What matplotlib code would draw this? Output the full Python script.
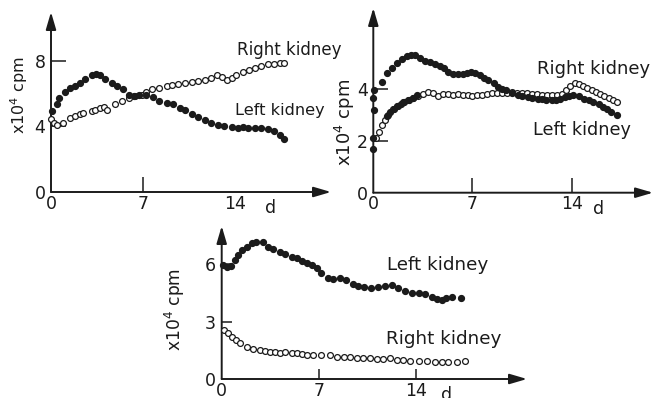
import matplotlib
matplotlib.use("Agg")
import matplotlib.pyplot as plt

W, H = 654, 398
INK = "#1b1b1b"

# ---- Panel A (top left): counts in units of 10^4 cpm vs. days ----
a_left_days = [0.05, 0.43, 0.6, 1.1, 1.45, 1.83, 2.2, 2.6, 3.1, 3.4, 3.74, 4.1,
               4.63, 5.0, 5.5, 5.9, 6.3, 6.67, 7.2, 7.8, 8.2, 8.8, 9.3, 9.8,
               10.2, 10.7, 11.2, 11.7, 12.2, 12.7, 13.2, 13.75, 14.25, 14.6,
               15.0, 15.5, 16.0, 16.5, 17.0, 17.4, 17.75]
a_left_cpm = [4.95, 5.37, 5.73, 6.1, 6.35, 6.45, 6.65, 6.92, 7.12, 7.22, 7.12,
              6.92, 6.65, 6.45, 6.25, 5.9, 5.84, 5.9, 5.94, 5.78, 5.53, 5.45,
              5.35, 5.12, 5.0, 4.75, 4.6, 4.4, 4.22, 4.1, 4.05, 3.97, 3.88,
              3.97, 3.93, 3.93, 3.92, 3.85, 3.7, 3.45, 3.25]
a_right_days = [0.0, 0.2, 0.45, 0.94, 1.45, 1.83, 2.2, 2.47, 3.1, 3.36, 3.74,
                4.0, 4.25, 4.9, 5.4, 5.9, 6.4, 6.9, 7.2, 7.7, 8.2, 8.8, 9.2,
                9.7, 10.2, 10.7, 11.2, 11.7, 12.2, 12.6, 13.0, 13.4, 13.8,
                14.1, 14.6, 15.1, 15.5, 16.0, 16.5, 17.0, 17.4, 17.7]
a_right_cpm = [4.45, 4.2, 4.1, 4.2, 4.5, 4.65, 4.75, 4.82, 4.92, 5.0, 5.1, 5.2,
               5.0, 5.37, 5.53, 5.75, 5.84, 5.9, 6.1, 6.25, 6.35, 6.45, 6.52,
               6.56, 6.63, 6.7, 6.77, 6.83, 6.93, 7.13, 7.0, 6.83, 6.93, 7.13,
               7.3, 7.44, 7.58, 7.7, 7.78, 7.83, 7.85, 7.88]

# ---- Panel B (top right) ----
b_left_days = [0.0, 0.0, 0.02, 0.0, 0.05,
               0.95, 1.2, 1.45, 1.7, 1.95, 2.2, 2.5, 2.8, 3.1,
               0.6, 0.95, 1.3, 1.65, 2.0, 2.35, 2.65, 2.95, 3.3, 3.65, 4.0,
               4.35, 4.7, 5.0, 5.3, 5.65, 6.0, 6.3, 6.6, 6.9, 7.2, 7.5, 7.8,
               8.1, 8.5, 8.8, 9.1, 9.4, 9.8, 10.2, 10.5, 10.9, 11.2, 11.6,
               11.9, 12.2, 12.6, 12.9, 13.2, 13.5, 13.8, 14.1, 14.5, 14.9,
               15.2, 15.5, 15.9, 16.2, 16.5, 16.8, 17.2]
b_left_cpm = [1.7, 2.09, 3.18, 3.63, 3.95,
              2.95, 3.1, 3.22, 3.32, 3.42, 3.5, 3.58, 3.66, 3.74,
              4.25, 4.6, 4.8, 4.98, 5.13, 5.25, 5.3, 5.28, 5.17, 5.08, 5.02,
              4.95, 4.88, 4.78, 4.66, 4.56, 4.55, 4.58, 4.62, 4.63, 4.6, 4.52,
              4.42, 4.33, 4.2, 4.08, 4.0, 3.95, 3.82, 3.76, 3.72, 3.69, 3.65,
              3.62, 3.6, 3.58, 3.57, 3.58, 3.62, 3.69, 3.72, 3.74, 3.7, 3.6,
              3.56, 3.5, 3.4, 3.3, 3.22, 3.12, 2.99]
b_right_days = [0.2, 0.42, 0.6, 0.82, 1.06, 1.4, 1.75, 2.1, 2.45, 2.8, 3.15,
                3.5, 3.85, 4.2, 4.55, 4.9, 5.25, 5.6, 5.95, 6.3, 6.65, 7.0,
                7.35, 7.7, 8.05, 8.4, 8.75, 9.1, 9.45, 9.8, 10.15, 10.5,
                10.85, 11.2, 11.55, 11.9, 12.25, 12.6, 12.95, 13.3, 13.6,
                13.9, 14.2, 14.5, 14.8, 15.1, 15.4, 15.7, 16.0, 16.3, 16.6,
                16.9, 17.2]
b_right_cpm = [2.1, 2.35, 2.6, 2.8, 3.0, 3.2, 3.35, 3.47, 3.56, 3.65, 3.72,
               3.8, 3.87, 3.85, 3.72, 3.78, 3.8, 3.77, 3.78, 3.76, 3.74, 3.72,
               3.76, 3.76, 3.78, 3.82, 3.84, 3.82, 3.85, 3.88, 3.85, 3.82,
               3.82, 3.8, 3.78, 3.76, 3.76, 3.76, 3.74, 3.8, 3.95, 4.1, 4.2,
               4.18, 4.12, 4.03, 3.95, 3.88, 3.8, 3.72, 3.63, 3.56, 3.5]

# ---- Panel C (bottom) ----
c_left_days = [0.12, 0.36, 0.65, 0.96, 1.2, 1.44, 1.8, 2.17, 2.5, 3.0, 3.37,
               3.73, 4.2, 4.57, 5.05, 5.4, 5.77, 6.13, 6.5, 6.86, 7.2, 7.7,
               8.06, 8.54, 9.0, 9.5, 9.86, 10.3, 10.8, 11.3, 11.8, 12.27,
               12.75, 13.2, 13.7, 14.2, 14.67, 15.15, 15.5, 15.9, 16.2,
               16.6, 17.3]
c_left_cpm = [5.97, 5.88, 5.93, 6.23, 6.49, 6.75, 6.93, 7.1, 7.19, 7.19, 6.93,
              6.8, 6.67, 6.53, 6.4, 6.32, 6.18, 6.06, 5.97, 5.8, 5.53, 5.27,
              5.22, 5.27, 5.18, 5.0, 4.87, 4.8, 4.78, 4.83, 4.87, 4.92, 4.75,
              4.6, 4.49, 4.49, 4.43, 4.31, 4.19, 4.14, 4.22, 4.31, 4.22]
c_right_days = [0.2, 0.43, 0.72, 1.03, 1.32, 1.8, 2.28, 2.77, 3.13, 3.5, 3.85,
                4.2, 4.57, 5.05, 5.4, 5.77, 6.13, 6.6, 7.2, 7.8, 8.3, 8.8,
                9.26, 9.74, 10.2, 10.7, 11.2, 11.67, 12.15, 12.63, 13.1, 13.6,
                14.2, 14.8, 15.4, 15.9, 16.36, 16.96, 17.56]
c_right_cpm = [2.57, 2.39, 2.22, 2.04, 1.87, 1.69, 1.57, 1.52, 1.47, 1.43, 1.4,
               1.38, 1.43, 1.38, 1.34, 1.29, 1.26, 1.26, 1.26, 1.26, 1.17,
               1.17, 1.13, 1.12, 1.12, 1.08, 1.03, 1.05, 1.08, 0.99, 0.99,
               0.96, 0.94, 0.94, 0.91, 0.91, 0.91, 0.87, 0.94]

x_ticks = [0, 7, 14]
x_tick_labels = ["0", "7", "14"]
a_y_ticks = [0, 4, 8]
b_y_ticks = [0, 2, 4]
c_y_ticks = [0, 3, 6]
ylabel = "x10$^4$ cpm"

fig = plt.figure(figsize=(W / 100, H / 100), dpi=100)
fig.patch.set_facecolor("white")


def panel(ox, oy, px_day, px_unit, xtip, ytip, yticks, tick_len=10.5,
          tick_fs=12.5):
    """Axes whose data origin sits at pixel (ox, oy), with arrow-tipped axes."""
    ax = fig.add_axes([ox / W, (H - oy) / H, (xtip - ox) / W, (oy - ytip) / H])
    ax.set_xlim(0, (xtip - ox) / px_day)
    ax.set_ylim(0, (oy - ytip) / px_unit)
    for s in ax.spines.values():
        s.set_visible(False)
    ax.patch.set_alpha(0)
    arrow = dict(arrowstyle="-|>,head_length=0.75,head_width=0.22",
                 mutation_scale=14, lw=1.4, color=INK, shrinkA=0, shrinkB=0)
    ax.annotate("", xy=(1, 0), xytext=(0, 0), xycoords="axes fraction",
                arrowprops=arrow, annotation_clip=False)
    ax.annotate("", xy=(0, 1), xytext=(0, 0), xycoords="axes fraction",
                arrowprops=arrow, annotation_clip=False)
    ax.set_xticks(x_ticks, x_tick_labels)
    ax.set_yticks(yticks, [str(t) for t in yticks])
    ax.tick_params(direction="in", length=tick_len, width=1.1, color=INK,
                   labelcolor=INK, labelsize=tick_fs)
    ax.tick_params(axis="x", pad=2)
    ax.tick_params(axis="y", pad=4)
    ax.xaxis.get_major_ticks()[0].tick1line.set_visible(False)
    ax.yaxis.get_major_ticks()[0].tick1line.set_visible(False)
    return ax


def dots(ax, days, cpm, filled):
    if filled:
        ax.plot(days, cpm, "o", ms=4.2, color=INK, mec=INK, zorder=4,
                clip_on=False)
    else:
        ax.plot(days, cpm, "o", ms=4.2, mfc="white", mec=INK, mew=0.9,
                zorder=3, clip_on=False)


def ylab(x, y, size):
    fig.text(x / W, 1 - y / H, ylabel, rotation=90, ha="center", va="center",
             fontsize=size, color=INK)


# Panel A
axa = panel(51, 192, 13.14, 16.4, 331, 12, a_y_ticks)
axa.xaxis.get_major_ticks()[2].tick1line.set_visible(False)
dots(axa, a_right_days, a_right_cpm, False)
dots(axa, a_left_days, a_left_cpm, True)
axa.text(16.7, -0.45, "d", ha="center", va="top", fontsize=12.5, color=INK)
axa.text(14.15, 8.65, "Right kidney", fontsize=12, color=INK, va="center")
axa.text(14.0, 4.95, "Left kidney", fontsize=11.6, color=INK, va="center")
ylab(19, 95, 11.5)

# Panel B
axb = panel(373.3, 192.7, 14.17, 26.0, 653, 8, b_y_ticks)
dots(axb, b_right_days, b_right_cpm, False)
dots(axb, b_left_days, b_left_cpm, True)
axb.text(15.9, -0.28, "d", ha="center", va="top", fontsize=12.5, color=INK)
axb.text(11.55, 4.75, "Right kidney", fontsize=13, color=INK, va="center")
axb.text(11.25, 2.4, "Left kidney", fontsize=12.7, color=INK, va="center")
ylab(345, 122, 13)

# Panel C
axc = panel(221.7, 379, 13.86, 19.1, 527, 226, c_y_ticks, tick_len=7.5)
dots(axc, c_right_days, c_right_cpm, False)
dots(axc, c_left_days, c_left_cpm, True)
axc.text(16.25, -0.38, "d", ha="center", va="top", fontsize=12.5, color=INK)
axc.text(11.9, 5.95, "Left kidney", fontsize=13.2, color=INK, va="center")
axc.text(11.85, 2.12, "Right kidney", fontsize=13.2, color=INK, va="center")
ylab(175, 309, 12.3)

fig.savefig("out.png", dpi=100, facecolor="white")
